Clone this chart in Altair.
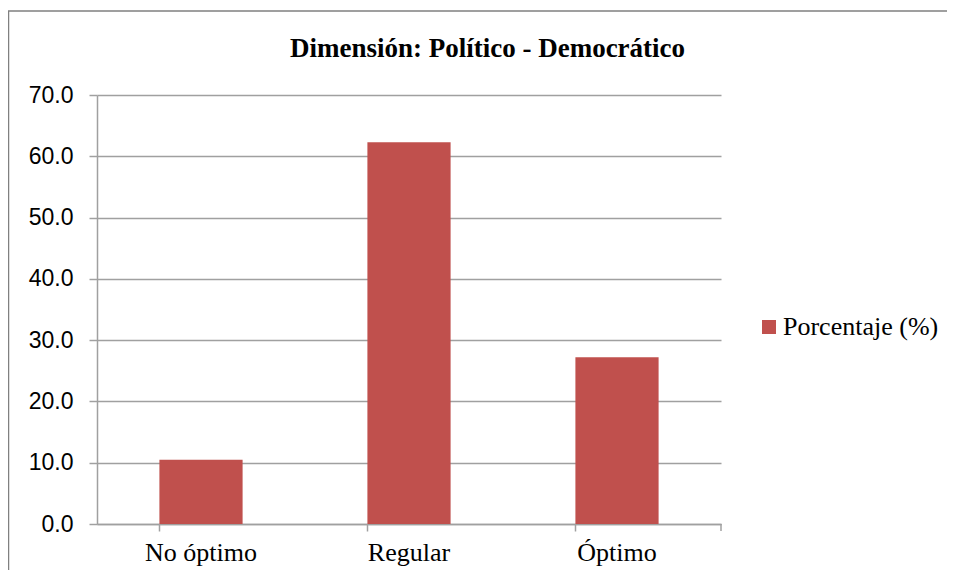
import altair as alt
import pandas as pd

categories = ["No óptimo", "Regular", "Óptimo"]
values = [10.5, 62.3, 27.2]
series_name = "Porcentaje (%)"
title_text = "Dimensión: Político - Democrático"
y_ticks = [0, 10, 20, 30, 40, 50, 60, 70]

df = pd.DataFrame({"cat": categories, "val": values, "serie": [series_name] * len(categories)})
frame_df = pd.DataFrame({"k": [0]})
title_df = pd.DataFrame({"t": [title_text]})

W, H = 624, 429
grey = "#A0A0A0"

bars = alt.Chart(df).mark_bar(color="#C0504D").encode(
    x=alt.X("cat:N", sort=categories, title=None,
            scale=alt.Scale(paddingInner=0.6, paddingOuter=0.3),
            axis=alt.Axis(bandPosition=0, labelAngle=0, labelFont="Liberation Serif",
                          labelFontSize=26, labelColor="#000000", labelPadding=8,
                          tickSize=7, tickColor=grey, tickWidth=1.5,
                          domainColor=grey, domainWidth=1.5)),
    y=alt.Y("val:Q", title=None,
            scale=alt.Scale(domain=[0, 70], nice=False),
            axis=alt.Axis(values=y_ticks, format=".1f", labelFont="Liberation Sans",
                          labelFontSize=23, labelColor="#000000", labelPadding=16,
                          tickSize=8, tickColor=grey, tickWidth=1.5,
                          domainColor=grey, domainWidth=1.5,
                          grid=True, gridColor=grey, gridWidth=1.5)),
    color=alt.Color("serie:N", scale=alt.Scale(range=["#C0504D"]),
                    legend=alt.Legend(title=None, orient="none", legendX=659, legendY=219,
                                      symbolType="square", symbolSize=196, symbolStrokeWidth=0,
                                      labelFont="Liberation Serif", labelFontSize=26,
                                      labelColor="#000000", labelOffset=1, padding=0)),
)

end_tick = alt.Chart(frame_df).mark_rule(color=grey, strokeWidth=1.5).encode(
    x=alt.value(W), y=alt.value(H), y2=alt.value(H + 7)
)

border = alt.Chart(frame_df).mark_rect(filled=False, stroke="#808080", strokeWidth=1.5).encode(
    x=alt.value(-88.5), x2=alt.value(W + 300), y=alt.value(-84), y2=alt.value(H + 100)
)

title = alt.Chart(title_df).mark_text(
    font="Liberation Serif", fontSize=27, fontWeight="bold", color="#000000",
    align="center", baseline="alphabetic"
).encode(text="t:N", x=alt.value(390.5), y=alt.value(-38))

chart = alt.layer(border, bars, end_tick, title).properties(
    width=W, height=H,
    padding={"left": 89, "top": 87, "right": 226, "bottom": 46},
    autosize=alt.AutoSizeParams(type="none"),
).configure_view(stroke=None)

chart.save("out.html", embed_options={"renderer": "svg", "actions": False})
